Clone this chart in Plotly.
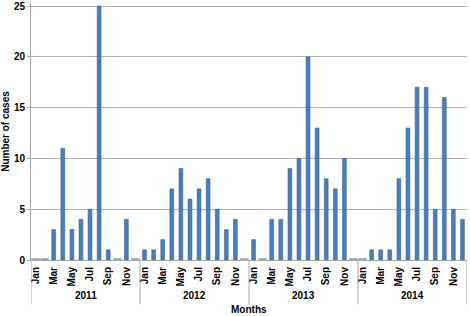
import plotly.graph_objects as go

years = ["2011", "2012", "2013", "2014"]
months = ["Jan", "Feb", "Mar", "Apr", "May", "Jun", "Jul", "Aug", "Sep", "Oct", "Nov", "Dec"]
cases_2011 = [0, 0, 3, 11, 3, 4, 5, 25, 1, 0, 4, 0]
cases_2012 = [1, 1, 2, 7, 9, 6, 7, 8, 5, 3, 4, 0]
cases_2013 = [2, 0, 4, 4, 9, 10, 20, 13, 8, 7, 10, 0]
cases_2014 = [0, 1, 1, 1, 8, 13, 17, 17, 5, 16, 5, 4]

series = [cases_2011, cases_2012, cases_2013, cases_2014]
values = [v for s in series for v in s]
n = len(values)
xs = list(range(n))
month_labels = [months[i % 12] for i in xs]

fig = go.Figure()
fig.add_trace(go.Bar(
    x=xs, y=values, width=0.42,
    marker=dict(color="#4A7EBB", line=dict(color="#3463A0", width=0.6)),
    hoverinfo="y",
))
zx = [i for i, v in enumerate(values) if v == 0]
fig.add_trace(go.Scatter(
    x=zx, y=[0.08] * len(zx), mode="markers",
    marker=dict(symbol="line-ew", size=6, line=dict(color="#8FA6C8", width=2)),
    hoverinfo="skip",
))

tick_idx = [i for i in xs if i % 2 == 0]
bold = dict(family="Arial, Liberation Sans", size=10, color="black", weight="bold")

shapes = []
for k in range(len(years) + 1):
    xb = k * 12 - 0.5
    shapes.append(dict(type="line", xref="x", yref="paper", x0=xb, x1=xb,
                       y0=0, y1=-0.172, line=dict(color="#A6A6A6", width=1)))

annotations = []
for k, yr in enumerate(years):
    annotations.append(dict(x=k * 12 + 5.5, y=-0.14, xref="x", yref="paper",
                            text=yr, showarrow=False, font=bold,
                            xanchor="center", yanchor="middle"))
annotations.append(dict(x=0.5, y=-0.192, xref="paper", yref="paper",
                        text="<b>Months</b>", showarrow=False,
                        font=dict(family="Arial, Liberation Sans", size=10, color="black"),
                        xanchor="center", yanchor="middle"))

fig.update_layout(
    width=470, height=316,
    margin=dict(l=31, r=3, t=1, b=56),
    plot_bgcolor="white", paper_bgcolor="white",
    showlegend=False,
    bargap=0.5,
    shapes=shapes,
    annotations=annotations,
    xaxis=dict(
        range=[-0.5, n - 0.5],
        tickmode="array", tickvals=tick_idx, ticktext=[month_labels[i] for i in tick_idx],
        tickangle=-90, tickfont=bold,
        showgrid=False, zeroline=False,
        showline=True, linecolor="#A6A6A6", linewidth=1,
        ticks="", ticklabelstandoff=2,
    ),
    yaxis=dict(
        range=[0, 25.3], tickmode="array", tickvals=[0, 5, 10, 15, 20, 25],
        tickfont=bold, ticklabeloverflow="allow",
        showgrid=True, gridcolor="#B3B3B3", gridwidth=1,
        zeroline=False, showline=True, linecolor="#A6A6A6", linewidth=1,
        ticks="outside", ticklen=3, tickcolor="#A6A6A6",
        title=dict(text="<b>Number of cases</b>",
                   font=dict(family="Arial, Liberation Sans", size=10, color="black"),
                   standoff=6),
    ),
)

fig.write_html("out.html", config={"displayModeBar": False},
               post_script="document.body.style.margin='0';")
